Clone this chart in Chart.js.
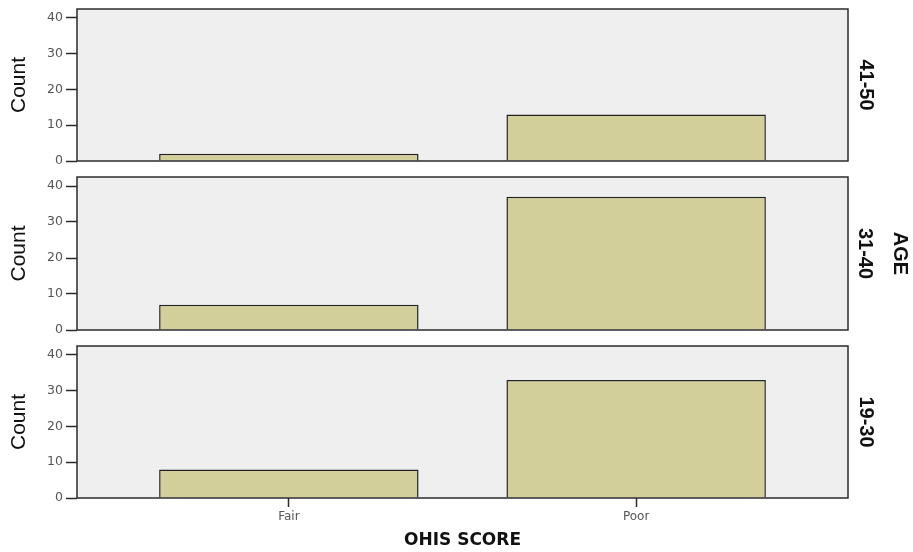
<!DOCTYPE html>
<html>
<head>
<meta charset="utf-8">
<script src="https://cdn.jsdelivr.net/npm/chart.js@4/dist/chart.umd.min.js"></script>
<style>
  html, body { margin: 0; padding: 0; background: #fff; }
  #wrap { position: relative; width: 913px; height: 552px; }
  #wrap canvas { position: absolute; left: 0; }
</style>
</head>
<body>
<div id="wrap">
  <canvas id="panel1" width="913" height="169" style="top:0px"></canvas>
  <canvas id="panel2" width="913" height="169" style="top:169px"></canvas>
  <canvas id="panel3" width="913" height="214" style="top:338px"></canvas>
</div>
<script>
// OHIS score categories and counts per age group
const categories = ['Fair', 'Poor'];
const ageGroups = ['41-50', '31-40', '19-30'];
const counts4150 = [2, 13];
const counts3140 = [7, 37];
const counts1930 = [8, 33];
const yTicks = [0, 10, 20, 30, 40];

const BAR_FILL = '#d3cf9a';
const FRAME = '#2b2b2b';

// grey plot background + dark frame around each panel
const framePlugin = {
    id: 'frame',
    beforeDatasetsDraw(chart) {
        const { ctx, chartArea: a } = chart;
        ctx.save();
        ctx.fillStyle = '#efefef';
        ctx.fillRect(a.left, a.top, a.right - a.left, a.bottom - a.top);
        ctx.restore();
    },
    afterDatasetsDraw(chart) {
        const { ctx, chartArea: a } = chart;
        ctx.save();
        ctx.strokeStyle = FRAME;
        ctx.lineWidth = 1.5;
        ctx.strokeRect(a.left, a.top, a.right - a.left, a.bottom - a.top);
        ctx.restore();
    }
};

function makePanel(id, values, rightTitle, pad, showX) {
    const ctx = document.getElementById(id).getContext('2d');
    return new Chart(ctx, {
        type: 'bar',
        data: {
            datasets: [{
                data: categories.map((c, i) => ({ x: i, y: values[i] })),
                backgroundColor: BAR_FILL,
                borderColor: '#222',
                borderWidth: 1.5,
                categoryPercentage: 1,
                barPercentage: 0.747
            }]
        },
        options: {
            responsive: false,
            animation: false,
            events: [],
            layout: { padding: { top: pad.top, bottom: pad.bottom, left: 0, right: 0 } },
            plugins: { legend: { display: false }, tooltip: { enabled: false } },
            scales: {
                x: {
                    type: 'linear',
                    min: -0.61,
                    max: 1.61,
                    offset: false,
                    display: showX,
                    afterBuildTicks: (scale) => { scale.ticks = categories.map((c, i) => ({ value: i })); },
                    afterFit: (scale) => { if (showX) scale.height = 54; },
                    ticks: {
                        callback: (v) => categories[v],
                        color: '#555',
                        font: { family: 'DejaVu Sans', size: 12 },
                        padding: 3,
                        maxRotation: 0
                    },
                    grid: { offset: false, drawOnChartArea: false, tickLength: 9, tickColor: FRAME, tickWidth: 1.5 },
                    border: { display: false },
                    title: {
                        display: true,
                        text: 'OHIS SCORE',
                        color: '#111',
                        font: { family: 'DejaVu Sans', size: 17, weight: 'bold' },
                        padding: { top: 0, bottom: 1 }
                    }
                },
                y: {
                    position: 'left',
                    min: 0,
                    max: 42.5,
                    afterBuildTicks: (scale) => { scale.ticks = yTicks.map(v => ({ value: v })); },
                    afterFit: (scale) => { scale.width = 77; },
                    ticks: {
                        color: '#555',
                        font: { family: 'DejaVu Sans', size: 12.5, lineHeight: 0.8 },
                        padding: 3
                    },
                    grid: { drawOnChartArea: false, tickLength: 11, tickColor: FRAME, tickWidth: 1.5 },
                    border: { display: false },
                    title: {
                        display: true,
                        text: 'Count',
                        color: '#111',
                        font: { family: "'Liberation Sans Narrow', 'Arial Narrow', sans-serif", size: 21 },
                        padding: { top: 7, bottom: 0 }
                    }
                },
                age: {
                    position: 'right',
                    min: 0,
                    max: 42.5,
                    afterFit: (scale) => { scale.width = 65; },
                    ticks: { display: false },
                    grid: { display: false },
                    border: { display: false },
                    title: {
                        display: true,
                        text: rightTitle.text,
                        color: '#111',
                        font: { family: "'Liberation Sans Narrow', 'Arial Narrow', sans-serif", size: 20, weight: 'bold', lineHeight: 1.75 },
                        padding: { top: rightTitle.pad, bottom: 0 }
                    }
                }
            }
        },
        plugins: [framePlugin]
    });
}

makePanel('panel1', counts4150, { text: ageGroups[0], pad: 29.5 }, { top: 9, bottom: 7 }, false);
makePanel('panel2', counts3140, { text: ['AGE', ageGroups[1]], pad: -4.5 }, { top: 8, bottom: 8 }, false);
makePanel('panel3', counts1930, { text: ageGroups[2], pad: 29.5 }, { top: 8, bottom: 0 }, true);
</script>
</body>
</html>
